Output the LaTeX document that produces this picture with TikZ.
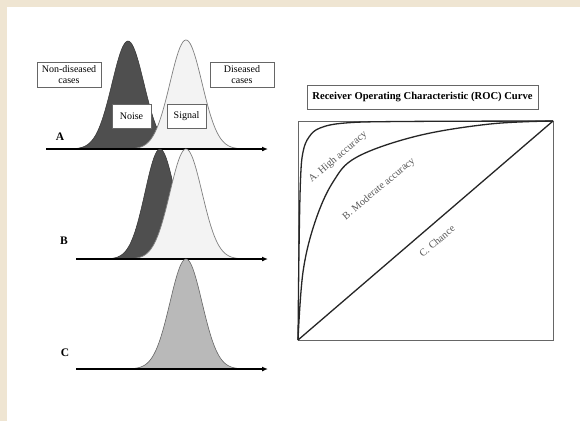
\documentclass[tikz,border=0pt]{standalone}
\usepackage{fontspec}
\setmainfont{Liberation Serif}
\usetikzlibrary{arrows.meta}

\definecolor{paper}{HTML}{EFE5D2}
\definecolor{noisegray}{HTML}{4F4F4F}
\definecolor{signalgray}{HTML}{F3F3F3}
\definecolor{chancegray}{HTML}{B9B9B9}

\tikzset{
  labelbox/.style={draw=black!60, fill=white, inner sep=1.5pt, align=center,
    font=\fontsize{10}{10.5}\selectfont},
  axis/.style={line width=1.4pt, -{Latex[length=6pt,width=5pt]}},
  noisecurve/.style={draw=black!80, fill=noisegray, line width=0.5pt},
  signalcurve/.style={draw=black!50, fill=signalgray, line width=0.7pt},
  chancecurve/.style={draw=black!60, fill=chancegray, line width=0.6pt},
  rowlabel/.style={font=\fontsize{11.5}{12}\selectfont\bfseries},
  roclabel/.style={text=black!65, font=\fontsize{10.3}{11}\selectfont, rotate=40},
  roccurve/.style={line width=1.3pt, black!85}
}

\begin{document}
\begin{tikzpicture}[x=1pt,y=-1pt]
  % page and white panel
  \fill[paper] (0,0) rectangle (580,421);
  \fill[white] (7,7) rectangle (580,421);
  \useasboundingbox (0,0) rectangle (580,421);

  % row A
  \draw[noisecurve] plot[domain=70:190, samples=80] (\x, {149-108*exp(-((\x-128)/16)^2/2)});
  \draw[signalcurve] plot[domain=128:245, samples=80] (\x, {149-109*exp(-((\x-186)/16)^2/2)});
  \coordinate (axA0) at (46,149);
  \coordinate (axA1) at (268,149);
  \draw[axis] (axA0) -- (axA1);
  \node[rowlabel] (labA) at (60,137) {A};
  \node[labelbox, minimum width=64pt, minimum height=25pt] (nondis) at (69,74.5) {Non-diseased\\cases};
  \node[labelbox, minimum width=64pt, minimum height=25pt] (dis) at (242,74.5) {Diseased\\cases};
  \node[labelbox, minimum width=39pt, minimum height=24pt] (noise) at (131.5,116) {Noise};
  \node[labelbox, minimum width=39pt, minimum height=24pt] (signal) at (186.5,116) {Signal};

  % row B
  \draw[noisecurve] plot[domain=108:215, samples=80] (\x, {259-110*exp(-((\x-160)/15)^2/2)});
  \draw[signalcurve] plot[domain=128:245, samples=80] (\x, {259-110*exp(-((\x-186)/16)^2/2)});
  \coordinate (axB0) at (76,259);
  \coordinate (axB1) at (268,259);
  \draw[axis] (axB0) -- (axB1);
  \node[rowlabel] (labB) at (64,241) {B};

  % row C
  \draw[chancecurve] plot[domain=130:243, samples=80] (\x, {369-110*exp(-((\x-186)/16)^2/2)});
  \coordinate (axC0) at (76,369);
  \coordinate (axC1) at (268,369);
  \draw[axis] (axC0) -- (axC1);
  \node[rowlabel] (labC) at (65,353) {C};

  % ROC panel
  \node[draw=black!60, inner sep=2pt, minimum width=231pt, minimum height=24pt,
    font=\fontsize{10.6}{11}\selectfont\bfseries] (title) at (422.5,97) {Receiver Operating Characteristic (ROC) Curve};
  \draw[black!60, line width=0.6pt] (298,121) rectangle (553,340);
  \coordinate (orig) at (298,340);
  \coordinate (top) at (553,121);
  \draw[roccurve] (orig) -- (top);
  \draw[roccurve] plot[smooth, tension=0.6] coordinates {(298,340) (299,250) (300.5,180) (303,152) (309,137) (320,128) (345,123) (400,121.5) (553,121)};
  \draw[roccurve] plot[smooth, tension=0.6] coordinates {(298,340) (303,272) (315,222) (333,182) (357,157) (417,136) (490,124) (553,121)};
  \node[roclabel] (hiacc) at (338,157) {A. High accuracy};
  \node[roclabel] (modacc) at (379,189) {B. Moderate accuracy};
  \node[roclabel] (chance) at (437,241) {C. Chance};
\end{tikzpicture}
\end{document}
